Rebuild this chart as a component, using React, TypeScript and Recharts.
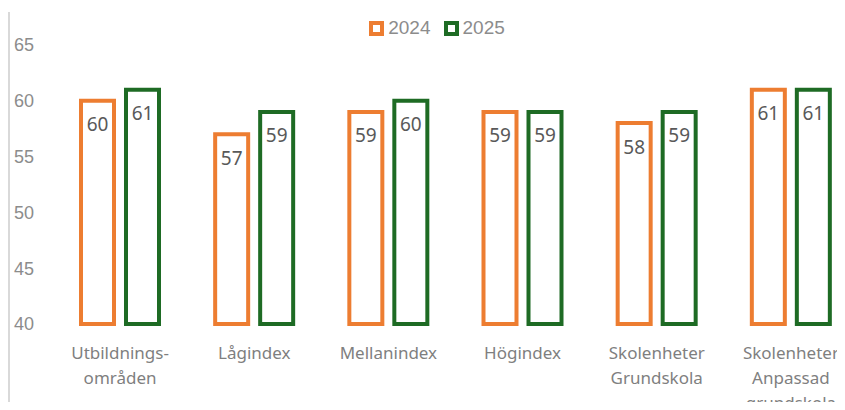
import React from "react";
import { BarChart, Bar, XAxis, YAxis, Legend, LabelList } from "recharts";

const categories = [
  "Utbildnings-\nområden",
  "Lågindex",
  "Mellanindex",
  "Högindex",
  "Skolenheter\nGrundskola",
  "Skolenheter\nAnpassad\ngrundskola",
];
const values2024 = [60, 57, 59, 59, 58, 61];
const values2025 = [61, 59, 60, 59, 59, 61];
const yTicks = [40, 45, 50, 55, 60, 65];

const ORANGE = "#ED7D31";
const GREEN = "#1E6B24";

const data = categories.map((c, i) => ({
  name: c,
  y2024: values2024[i],
  y2025: values2025[i],
}));

const CategoryTick = (props: any) => {
  const { x, y, payload } = props;
  const lines = String(payload.value).split("\n");
  return (
    <text
      x={x}
      y={y + 35}
      textAnchor="middle"
      fill="#7f7f7f"
      fontSize={17}
      fontFamily="'Noto Sans', sans-serif"
    >
      {lines.map((l, i) => (
        <tspan key={i} x={x} dy={i === 0 ? 0 : 25}>
          {l}
        </tspan>
      ))}
    </text>
  );
};

const LegendBox = () => {
  const items = [
    { label: "2024", color: ORANGE },
    { label: "2025", color: GREEN },
  ];
  return (
    <div
      style={{
        height: 27,
        display: "flex",
        justifyContent: "center",
        alignItems: "flex-start",
        paddingLeft: 16,
        fontFamily: "'Liberation Sans', Arial, sans-serif",
        fontSize: 19,
        color: "#8c8c8c",
        lineHeight: "20px",
      }}
    >
      {items.map((it, i) => (
        <div
          key={it.label}
          style={{ display: "flex", alignItems: "center", marginLeft: i === 0 ? 0 : 13 }}
        >
          <span
            style={{
              width: 7,
              height: 7,
              border: `4px solid ${it.color}`,
              background: "#fff",
              marginRight: 4,
              display: "inline-block",
            }}
          />
          <span>{it.label}</span>
        </div>
      ))}
    </div>
  );
};

export default function App() {
  return (
    <div
      style={{
        position: "relative",
        margin: -8,
        width: 845,
        height: 410,
        overflow: "hidden",
        background: "#fff",
      }}
    >
      <div
        style={{
          position: "absolute",
          left: 8,
          top: 12,
          width: 2,
          height: 398,
          background: "#d9d9d9",
        }}
      />
      <BarChart
        width={860}
        height={410}
        data={data}
        margin={{ top: 18, right: 2, left: 0, bottom: 6 }}
        barGap={12}
        barSize={33}
      >
        <Legend verticalAlign="top" align="center" content={<LegendBox />} />
        <XAxis
          dataKey="name"
          axisLine={false}
          tickLine={false}
          tickSize={0}
          tickMargin={0}
          height={80}
          interval={0}
          tick={<CategoryTick />}
        />
        <YAxis
          domain={[40, 65]}
          ticks={yTicks}
          width={53}
          axisLine={false}
          tickLine={false}
          tickSize={0}
          tickMargin={19}
          tick={{
            fill: "#8c8c8c",
            fontSize: 18,
            fontFamily: "'Liberation Sans', Arial, sans-serif",
          }}
        />
        <Bar
          dataKey="y2024"
          name="2024"
          fill="#ffffff"
          stroke={ORANGE}
          strokeWidth={4}
          isAnimationActive={false}
        >
          <LabelList
            dataKey="y2024"
            position="insideTop"
            offset={17}
            fill="#595959"
            fontSize={19}
            fontFamily="'Noto Sans', sans-serif"
          />
        </Bar>
        <Bar
          dataKey="y2025"
          name="2025"
          fill="#ffffff"
          stroke={GREEN}
          strokeWidth={4}
          isAnimationActive={false}
        >
          <LabelList
            dataKey="y2025"
            position="insideTop"
            offset={17}
            fill="#595959"
            fontSize={19}
            fontFamily="'Noto Sans', sans-serif"
          />
        </Bar>
      </BarChart>
    </div>
  );
}
